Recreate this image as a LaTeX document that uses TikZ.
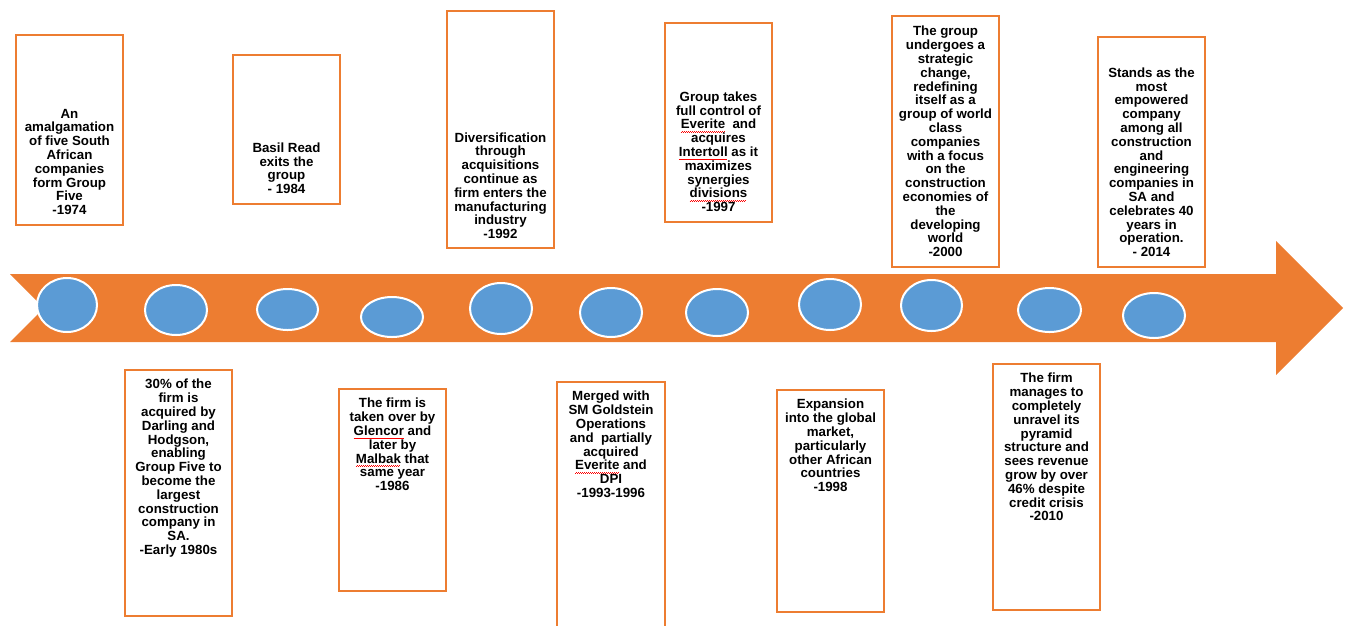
\documentclass[tikz,border=0pt]{standalone}
\usepackage{fontspec}
\setmainfont{Liberation Sans}
\usetikzlibrary{shapes.geometric}
\definecolor{orng}{HTML}{ED7D31}
\definecolor{bluedot}{HTML}{5B9BD5}
\newsavebox\splbox
\newcommand\spl[1]{\sbox\splbox{#1}\rlap{\usebox\splbox}\raisebox{0pt}[0pt][0pt]{\color{red}\leaders\hbox to 2pt{\rule[-3.2pt]{1pt}{0.5pt}\rule[-2.6pt]{1pt}{0.5pt}}\hskip\wd\splbox}}
\begin{document}
\begin{tikzpicture}[x=1pt,y=-1pt,
  box/.style={draw=orng, line width=2.3pt, fill=white, rectangle, inner sep=0pt},
  txt/.style={align=center, inner sep=0pt, font=\fontsize{13.3}{13.8}\selectfont\bfseries},
  dot/.style={ellipse, fill=bluedot, draw=white, line width=2pt, inner sep=0pt}]
\useasboundingbox (0,0) rectangle (1349,625);
\clip (0,0) rectangle (1349,625);
% arrow band
\fill[orng] (10,274) -- (1276,274) -- (1276,241) -- (1343,308) -- (1276,375) -- (1276,342) -- (10,342) -- (44,308) -- cycle;
% dots
\node[dot, minimum width=60pt, minimum height=54pt] (c1) at (67,305) {};
\node[dot, minimum width=62pt, minimum height=50pt] (c2) at (176,310) {};
\node[dot, minimum width=61pt, minimum height=41pt] (c3) at (287.5,309.5) {};
\node[dot, minimum width=62pt, minimum height=40pt] (c4) at (392,317) {};
\node[dot, minimum width=62pt, minimum height=51pt] (c5) at (501,308.5) {};
\node[dot, minimum width=62pt, minimum height=49pt] (c6) at (611,312.5) {};
\node[dot, minimum width=62pt, minimum height=47pt] (c7) at (717,312.5) {};
\node[dot, minimum width=62pt, minimum height=51pt] (c8) at (830,304.5) {};
\node[dot, minimum width=61pt, minimum height=51pt] (c9) at (931.5,305.5) {};
\node[dot, minimum width=63pt, minimum height=44pt] (c10) at (1049.5,310) {};
\node[dot, minimum width=62pt, minimum height=45pt] (c11) at (1154,315.5) {};
% top boxes
\node[box, minimum width=107pt, minimum height=190pt] (b1) at (69.5,130) {};
\node[txt, anchor=south] (t1) at (69.5,215) {An\\amalgamation\\of five South\\African\\companies\\form Group\\Five\\-1974};
\node[box, minimum width=107pt, minimum height=149pt] (b2) at (286.5,129.5) {};
\node[txt, anchor=south] (t2) at (286.5,194) {Basil Read\\exits the\\group\\- 1984};
\node[box, minimum width=107pt, minimum height=237pt] (b3) at (500.5,129.5) {};
\node[txt, anchor=south] (t3) at (500.5,239) {Diversification\\through\\acquisitions\\continue as\\firm enters the\\manufacturing\\industry\\-1992};
\node[box, minimum width=107pt, minimum height=199pt] (b4) at (718.5,122.5) {};
\node[txt, anchor=south] (t4) at (718.5,212) {Group takes\\full control of\\\spl{Everite}\ \ and\\acquires\\\spl{Intertoll} as it\\maximizes\\synergies\\\spl{divisions}\\-1997};
\node[box, minimum width=107pt, minimum height=251pt] (b5) at (945.5,141.5) {};
\node[txt, anchor=south] (t5) at (945.5,257) {The group\\undergoes a\\strategic\\change,\\redefining\\itself as a\\group of world\\class\\companies\\with a focus\\on the\\construction\\economies of\\the\\developing\\world\\-2000};
\node[box, minimum width=107pt, minimum height=230pt] (b6) at (1151.5,152) {};
\node[txt, anchor=south] (t6) at (1151.5,257) {Stands as the\\most\\empowered\\company\\among all\\construction\\and\\engineering\\companies in\\SA and\\celebrates 40\\years in\\operation.\\- 2014};
% bottom boxes
\node[box, minimum width=107pt, minimum height=246pt] (b7) at (178.5,493) {};
\node[txt, anchor=north] (t7) at (178.5,379) {30\% of the\\firm is\\acquired by\\Darling and\\Hodgson,\\enabling\\Group Five to\\become the\\largest\\construction\\company in\\SA.\\-Early 1980s};
\node[box, minimum width=107pt, minimum height=202pt] (b8) at (392.5,490) {};
\node[txt, anchor=north] (t8) at (392.5,398) {The firm is\\taken over by\\\spl{Glencor} and\\later by\\\spl{Malbak} that\\same year\\-1986};
\node[box, minimum width=108pt, minimum height=258pt] (b9) at (611,511) {};
\node[txt, anchor=north] (t9) at (611,391) {Merged with\\SM Goldstein\\Operations\\and\ \ partially\\acquired\\\spl{Everite} and\\DPI\\-1993-1996};
\node[box, minimum width=107pt, minimum height=222pt] (b10) at (830.5,501) {};
\node[txt, anchor=north] (t10) at (830.5,399) {Expansion\\into the global\\market,\\particularly\\other African\\countries\\-1998};
\node[box, minimum width=107pt, minimum height=246pt] (b11) at (1046.5,487) {};
\node[txt, anchor=north] (t11) at (1046.5,373) {The firm\\manages to\\completely\\unravel its\\pyramid\\structure and\\sees revenue\\grow by over\\46\% despite\\credit crisis\\-2010};
\end{tikzpicture}
\end{document}
